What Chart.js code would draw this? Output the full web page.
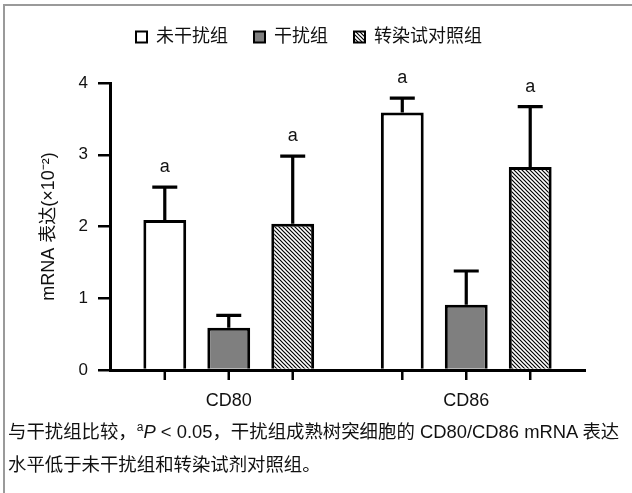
<!DOCTYPE html>
<html>
<head>
<meta charset="utf-8">
<script src="https://cdn.jsdelivr.net/npm/chart.js@4.4.1/dist/chart.umd.min.js"></script>
<style>
  html, body { margin: 0; padding: 0; background: #fff; }
  #wrap { position: relative; width: 632px; height: 493px; overflow: hidden; background: #fff; }
  #frame { position: absolute; left: 3px; top: 4px; width: 700px; height: 600px;
           border-left: 2px solid #9a9a9a; border-top: 2px solid #9a9a9a; }
  #chartBox { position: absolute; left: 0; top: 0; width: 632px; height: 420px; }
  #note { position: absolute; left: 8px; top: 415px; white-space: nowrap; color: #111;
          font: 18.4px 'Liberation Sans', 'Noto Sans CJK SC', sans-serif; line-height: 33px; }
  #note sup { font-size: 12px; line-height: 0; }
</style>
</head>
<body>
<div id="wrap">
  <div id="frame"></div>
  <div id="chartBox"><canvas id="c" width="632" height="420"></canvas></div>
  <div id="note">与干扰组比较，<sup>a</sup><i>P</i> &lt; 0.05，干扰组成熟树突细胞的 CD80/CD86 mRNA 表达<br>水平低于未干扰组和转染试剂对照组。</div>
</div>
<script>
// Relative mRNA expression (×10^-2), mean and SD per group
const categories = ['CD80', 'CD86'];
const groupNames = ['未干扰组', '干扰组', '转染试对照组'];
const untreatedMean = [2.09, 3.59];
const untreatedSD = [0.46, 0.20];
const silencedMean = [0.59, 0.91];
const silencedSD = [0.17, 0.47];
const reagentMean = [2.04, 2.83];
const reagentSD = [0.94, 0.84];
// significance marks (vs. 干扰组)
const untreatedSig = ['a', 'a'];
const silencedSig = ['', ''];
const reagentSig = ['a', 'a'];
const yTicks = [0, 1, 2, 3, 4];
const yTitle = 'mRNA 表达(×10⁻²)';

const FONT = "'Liberation Sans', 'Noto Sans CJK SC', sans-serif";
Chart.defaults.font.family = FONT;
Chart.defaults.color = '#111';

// diagonal "\" hatch fill
function makeHatch() {
  const s = 4;
  const c = document.createElement('canvas');
  c.width = s; c.height = s;
  const g = c.getContext('2d');
  g.fillStyle = '#fff';
  g.fillRect(0, 0, s, s);
  g.strokeStyle = '#000';
  g.lineWidth = 1.2;
  g.beginPath();
  g.moveTo(-1, -1); g.lineTo(s + 1, s + 1);
  g.moveTo(s - 1, -1); g.lineTo(s + 1, 1);
  g.moveTo(-1, s - 1); g.lineTo(1, s + 1);
  g.stroke();
  return g.createPattern(c, 'repeat');
}

// error bars, significance letters and per-bar x tick marks
const errorBars = {
  id: 'errorBars',
  afterDatasetsDraw(chart) {
    const { ctx, scales: { y } } = chart;
    ctx.save();
    ctx.strokeStyle = '#000';
    ctx.lineWidth = 3.2;
    ctx.fillStyle = '#111';
    ctx.font = '18px ' + FONT;
    ctx.textAlign = 'center';
    ctx.textBaseline = 'alphabetic';
    chart.data.datasets.forEach((ds, i) => {
      const meta = chart.getDatasetMeta(i);
      meta.data.forEach((bar, j) => {
        const top = y.getPixelForValue(ds.data[j] + ds.sd[j]);
        ctx.beginPath();
        ctx.moveTo(bar.x, bar.y);
        ctx.lineTo(bar.x, top);
        ctx.moveTo(bar.x - 12.5, top);
        ctx.lineTo(bar.x + 12.5, top);
        ctx.stroke();
        if (ds.sig[j]) ctx.fillText(ds.sig[j], bar.x, top - 15);
      });
    });
    ctx.restore();
  },
  afterDraw(chart) {
    const { ctx, chartArea } = chart;
    ctx.save();
    ctx.strokeStyle = '#000';
    ctx.lineWidth = 2.5;
    chart.data.datasets.forEach((ds, i) => {
      chart.getDatasetMeta(i).data.forEach(bar => {
        ctx.beginPath();
        ctx.moveTo(bar.x, chartArea.bottom);
        ctx.lineTo(bar.x, chartArea.bottom + 10);
        ctx.stroke();
      });
    });
    ctx.restore();
  }
};

// extra room between the legend row and the plot
const legendGap = {
  id: 'legendGap',
  afterInit(chart) {
    const legend = chart.legend;
    const fit = legend.fit;
    legend.fit = function () { fit.call(this); this.height += 27; };
  }
};

const hatch = makeHatch();

new Chart(document.getElementById('c'), {
  type: 'bar',
  data: {
    labels: categories,
    datasets: [
      { label: groupNames[0], data: untreatedMean, sd: untreatedSD, sig: untreatedSig,
        backgroundColor: '#ffffff', borderColor: '#000', borderWidth: 3 },
      { label: groupNames[1], data: silencedMean, sd: silencedSD, sig: silencedSig,
        backgroundColor: '#7f7f7f', borderColor: '#000', borderWidth: 3 },
      { label: groupNames[2], data: reagentMean, sd: reagentSD, sig: reagentSig,
        backgroundColor: hatch, borderColor: '#000', borderWidth: 3 }
    ]
  },
  options: {
    responsive: false,
    animation: false,
    categoryPercentage: 0.808,
    barPercentage: 0.67,
    layout: { padding: { top: 2, right: 47, bottom: 0, left: 0 } },
    plugins: {
      tooltip: { enabled: false },
      legend: {
        position: 'top',
        align: 'start',
        fullSize: false,
        labels: {
          font: { size: 18 },
          color: '#111',
          boxWidth: 11,
          boxHeight: 11,
          padding: 26,
          generateLabels(chart) {
            const items = Chart.defaults.plugins.legend.labels.generateLabels(chart);
            items.forEach(it => { it.lineWidth = 2; });
            return items;
          }
        }
      }
    },
    scales: {
      x: {
        grid: { display: false, drawTicks: false },
        border: { display: true, color: '#000', width: 3 },
        ticks: { font: { size: 18 }, color: '#111', padding: 20 },
        afterFit(scale) { scale.height = 50; }
      },
      y: {
        min: 0,
        max: 4,
        afterBuildTicks(scale) { scale.ticks = yTicks.map(v => ({ value: v })); },
        grid: { drawOnChartArea: false, drawTicks: true, tickLength: 12, color: '#000', lineWidth: 2.5 },
        border: { display: true, color: '#000', width: 3 },
        ticks: { font: { size: 17 }, color: '#111', padding: 10 },
        title: { display: true, text: yTitle, font: { size: 18 }, color: '#111', padding: { top: 38, bottom: 0 } },
        afterFit(scale) { scale.width = 110; }
      }
    }
  },
  plugins: [errorBars, legendGap]
});
</script>
</body>
</html>
